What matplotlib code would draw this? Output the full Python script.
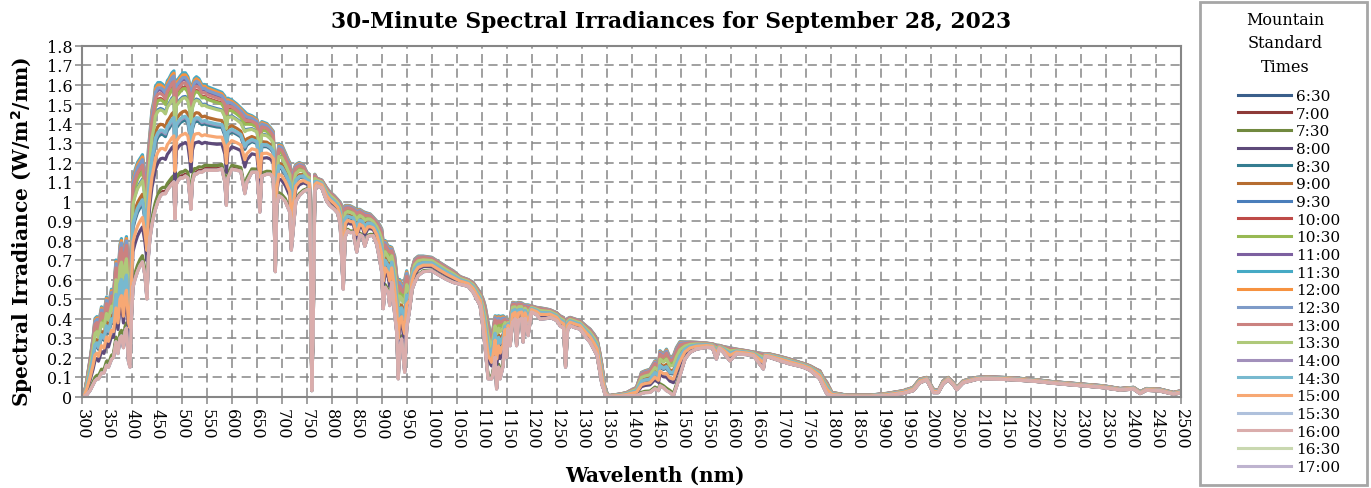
import numpy as np
import matplotlib.pyplot as plt
from matplotlib.patches import Rectangle
from matplotlib.lines import Line2D
from matplotlib.ticker import MultipleLocator, FuncFormatter

plt.rcParams["font.family"] = ["DejaVu Serif"]

# wavelength grid (nm) with the brightest (midday) and dimmest (16:00) spectra
wl_nm = [300, 305, 310, 316, 322, 326, 330, 333, 339, 344, 349, 353, 359, 363, 368, 372, 376, 379,
         383, 386, 389, 393, 396, 399, 402, 406, 411, 416, 421, 426, 430, 433, 436, 440, 444, 447,
         452, 457, 462, 467, 471, 474, 480, 484, 486, 489, 493, 497, 502, 507, 512, 516, 518, 521,
         525, 529, 534, 540, 546, 550, 560, 570, 580, 586, 589, 592, 600, 610, 618, 626, 630, 640,
         650, 656, 660, 670, 677, 683, 687, 690, 694, 700, 707, 712, 716, 719, 723, 728, 735, 743,
         750, 755, 758, 760, 763, 766, 770, 780, 790, 796, 805, 812, 817, 820, 823, 827, 832, 837,
         843, 850, 856, 862, 866, 872, 877, 883, 890, 896, 900, 903, 907, 913, 916, 920, 926, 930,
         933, 936, 940, 943, 946, 950, 953, 956, 961, 966, 973, 983, 1000, 1016, 1030, 1043, 1057,
         1073, 1083, 1097, 1103, 1107, 1113, 1120, 1123, 1127, 1130, 1134, 1137, 1143, 1147, 1150,
         1153, 1157, 1162, 1167, 1170, 1174, 1180, 1183, 1187, 1193, 1200, 1210, 1217, 1230, 1237,
         1250, 1257, 1264, 1268, 1272, 1277, 1290, 1297, 1310, 1317, 1325, 1331, 1337, 1341, 1344,
         1347, 1354, 1377, 1390, 1397, 1410, 1420, 1427, 1437, 1447, 1454, 1457, 1464, 1470, 1477,
         1484, 1490, 1497, 1507, 1517, 1530, 1550, 1562, 1570, 1576, 1584, 1597, 1610, 1630, 1644,
         1664, 1668, 1677, 1697, 1717, 1737, 1744, 1757, 1770, 1777, 1784, 1791, 1801, 1831, 1877,
         1911, 1944, 1964, 1977, 1991, 2004, 2014, 2024, 2034, 2044, 2051, 2064, 2091, 2111, 2144,
         2178, 2211, 2244, 2278, 2311, 2345, 2378, 2405, 2418, 2431, 2458, 2485, 2500]

irr_upper = [0.0, 0.02, 0.09, 0.19, 0.30, 0.40, 0.41, 0.37, 0.46, 0.43, 0.51, 0.47, 0.55, 0.52, 0.70,
             0.60, 0.78, 0.81, 0.64, 0.78, 0.82, 0.66, 0.64, 0.80, 1.12, 1.16, 1.20, 1.22, 1.24, 1.15,
             1.10, 1.27, 1.35, 1.47, 1.52, 1.59, 1.61, 1.61, 1.60, 1.58, 1.62, 1.63, 1.66, 1.67, 1.50,
             1.62, 1.63, 1.645, 1.66, 1.66, 1.64, 1.60, 1.55, 1.60, 1.63, 1.64, 1.63, 1.60, 1.60,
             1.59, 1.58, 1.57, 1.56, 1.54, 1.50, 1.53, 1.52, 1.50, 1.48, 1.46, 1.45, 1.44, 1.423,
             1.38, 1.41, 1.40, 1.38, 1.36, 0.90, 1.20, 1.295, 1.29, 1.25, 1.22, 1.20, 1.05, 1.16,
             1.19, 1.20, 1.19, 1.15, 1.14, 0.70, 0.05, 0.50, 1.14, 1.12, 1.11, 1.07, 1.05, 1.03,
             1.01, 0.996, 0.98, 0.95, 0.98, 0.98, 0.978, 0.97, 0.96, 0.96, 0.95, 0.945, 0.94, 0.936,
             0.92, 0.90, 0.88, 0.86, 0.79, 0.80, 0.77, 0.77, 0.765, 0.72, 0.62, 0.585, 0.60, 0.57,
             0.57, 0.60, 0.645, 0.60, 0.55, 0.66, 0.705, 0.72, 0.72, 0.714, 0.688, 0.665, 0.645,
             0.615, 0.60, 0.585, 0.534, 0.50, 0.466, 0.38, 0.295, 0.35, 0.414, 0.41, 0.414, 0.41,
             0.414, 0.405, 0.397, 0.39, 0.397, 0.483, 0.48, 0.48, 0.483, 0.48, 0.475, 0.47, 0.47,
             0.465, 0.457, 0.455, 0.449, 0.445, 0.43, 0.414, 0.405, 0.30, 0.40, 0.406, 0.395, 0.389,
             0.36, 0.346, 0.32, 0.295, 0.22, 0.158, 0.10, 0.038, 0.004, 0.013, 0.02, 0.03, 0.047,
             0.124, 0.132, 0.14, 0.183, 0.158, 0.235, 0.218, 0.243, 0.20, 0.21, 0.252, 0.281, 0.28,
             0.28, 0.278, 0.274, 0.27, 0.264, 0.262, 0.256, 0.25, 0.243, 0.235, 0.228, 0.22, 0.22,
             0.218, 0.206, 0.192, 0.175, 0.17, 0.158, 0.14, 0.132, 0.098, 0.073, 0.021, 0.007, 0.007,
             0.016, 0.03, 0.047, 0.09, 0.098, 0.038, 0.03, 0.081, 0.098, 0.073, 0.047, 0.081, 0.098,
             0.101, 0.098, 0.093, 0.086, 0.076, 0.069, 0.062, 0.055, 0.041, 0.047, 0.025, 0.041,
             0.038, 0.021, 0.03]

irr_lower = [0.0, 0.0, 0.01, 0.03, 0.06, 0.08, 0.09, 0.09, 0.12, 0.12, 0.16, 0.15, 0.19, 0.20, 0.28,
             0.22, 0.30, 0.31, 0.25, 0.33, 0.35, 0.18, 0.15, 0.40, 0.56, 0.60, 0.64, 0.67, 0.69, 0.62,
             0.50, 0.72, 0.81, 0.88, 0.93, 0.96, 1.00, 1.03, 1.04, 1.04, 1.06, 1.07, 1.09, 1.10, 0.91,
             1.09, 1.11, 1.12, 1.12, 1.13, 1.12, 1.02, 0.96, 1.10, 1.14, 1.14, 1.15, 1.15, 1.16,
             1.16, 1.16, 1.16, 1.167, 1.10, 0.98, 1.12, 1.165, 1.16, 1.155, 1.04, 1.10, 1.15, 1.15,
             0.945, 1.13, 1.14, 1.14, 1.12, 0.64, 0.98, 1.03, 1.02, 1.00, 0.97, 0.945, 0.75, 0.86,
             1.00, 1.03, 1.05, 1.06, 1.06, 0.60, 0.03, 0.40, 1.05, 1.08, 1.07, 1.00, 0.98, 0.96,
             0.94, 0.876, 0.70, 0.55, 0.82, 0.85, 0.84, 0.842, 0.74, 0.83, 0.82, 0.77, 0.82, 0.825,
             0.825, 0.78, 0.70, 0.637, 0.45, 0.56, 0.534, 0.466, 0.585, 0.42, 0.33, 0.09, 0.25, 0.295,
             0.20, 0.124, 0.35, 0.40, 0.45, 0.55, 0.585, 0.62, 0.64, 0.645, 0.62, 0.60, 0.585,
             0.575, 0.565, 0.534, 0.466, 0.346, 0.25, 0.09, 0.09, 0.12, 0.20, 0.038, 0.15, 0.09,
             0.158, 0.30, 0.20, 0.346, 0.26, 0.38, 0.397, 0.26, 0.39, 0.40, 0.278, 0.40, 0.312,
             0.432, 0.42, 0.397, 0.40, 0.406, 0.39, 0.363, 0.35, 0.15, 0.34, 0.363, 0.35, 0.346,
             0.30, 0.278, 0.24, 0.21, 0.12, 0.06, 0.04, 0.01, 0.0, 0.0, 0.003, 0.004, 0.004,
             0.015, 0.02, 0.021, 0.04, 0.03, 0.055, 0.045, 0.03, 0.02, 0.004, 0.05, 0.107, 0.192,
             0.226, 0.243, 0.252, 0.25, 0.192, 0.245, 0.226, 0.183, 0.218, 0.215, 0.209, 0.141, 0.205,
             0.20, 0.183, 0.167, 0.155, 0.15, 0.135, 0.107, 0.09, 0.05, 0.013, 0.004, 0.0, 0.0,
             0.004, 0.015, 0.03, 0.07, 0.085, 0.02, 0.02, 0.065, 0.085, 0.06, 0.035, 0.07, 0.088,
             0.09, 0.088, 0.083, 0.077, 0.068, 0.06, 0.053, 0.045, 0.033, 0.038, 0.015, 0.032,
             0.028, 0.012, 0.018]

times = ["6:30", "7:00", "7:30", "8:00", "8:30", "9:00", "9:30", "10:00", "10:30", "11:00", "11:30",
         "12:00", "12:30", "13:00", "13:30", "14:00", "14:30", "15:00", "15:30", "16:00", "16:30",
         "17:00"]
# irradiance of each half-hour spectrum at 580 nm
level_580 = [1.17, 1.175, 1.19, 1.295, 1.38, 1.415, 1.47, 1.505, 1.50, 1.535, 1.56,
             1.552, 1.542, 1.522, 1.465, 1.39, 1.395, 1.33, 1.168, 1.167, 1.167, 1.167]

colors = ["#3A5F8B", "#8E3A38", "#71893F", "#5E4A7A", "#357D91", "#B66D31",
          "#4A7EBB", "#BE4B48", "#98B954", "#7D60A0", "#46AAC5", "#F69240",
          "#7E9BC8", "#CB8280", "#AFC97A", "#A290BB", "#78B9CF", "#F7A874",
          "#AFC1DC", "#DAADAC", "#C9D8B0", "#BEB3CF"]

wl = np.array(wl_nm, dtype=float)
upper = np.array(irr_upper)
lower = np.array(irr_lower)
i580 = wl_nm.index(580)

W, H = 1371, 489
fig = plt.figure(figsize=(W / 100, H / 100), dpi=100)
ax = fig.add_axes([82 / W, 91.5 / H, 1099 / W, 351 / H])

grid_color = "#868686"
for i, (t, lev) in enumerate(zip(times, level_580)):
    w = (lev - lower[i580]) / (upper[i580] - lower[i580])
    spec = lower + w * (upper - lower)
    # the two last series sit underneath the 16:00 trace
    z = 1.5 if t in ("16:30", "17:00") else 2 + i * 0.01
    ax.plot(wl, spec, color=colors[i], lw=2.3, zorder=z, solid_joinstyle="round")

ax.set_xlim(300, 2500)
ax.set_ylim(0, 1.8)
ax.xaxis.set_major_locator(MultipleLocator(50))
ax.yaxis.set_major_locator(MultipleLocator(0.1))
ax.yaxis.set_major_formatter(FuncFormatter(lambda v, p: f"{v:.1f}".rstrip("0").rstrip(".") if v else "0"))
ax.grid(True, color=grid_color, linestyle=(0, (6, 3.5)), linewidth=1.1, zorder=0)
ax.set_axisbelow(True)
for s in ax.spines.values():
    s.set_color(grid_color)
    s.set_linewidth(1.5)
ax.tick_params(axis="both", colors=grid_color, length=5, width=1.1, labelcolor="black", labelsize=11.5)
ax.tick_params(axis="x", labelrotation=-90, pad=3)
ax.tick_params(axis="y", pad=2)

# titles placed on the figure (centred on the chart area, not the plot area)
fig.text(671 / W, 1 - 22 / H, "30-Minute Spectral Irradiances for September 28, 2023",
         ha="center", va="center", fontsize=15.7, fontweight="bold")
fig.text(655 / W, 1 - 476 / H, "Wavelenth (nm)", ha="center", va="center",
         fontsize=14.5, fontweight="bold")
fig.text(22 / W, 1 - 232 / H, "Spectral Irradiance (W/m$^\\mathbf{2}$/nm)", ha="center", va="center",
         rotation=90, fontsize=14.5, fontweight="bold")

# legend box on the right
fig.patches.append(Rectangle((1200 / W, 3 / H), 167 / W, 483 / H, transform=fig.transFigure,
                             fill=False, edgecolor="#A6A6A6", linewidth=2))
fig.text(1285 / W, 1 - 12 / H, "Mountain\nStandard\nTimes", ha="center", va="top",
         fontsize=11.5, linespacing=1.5)
handles = [Line2D([], [], color=c, lw=2.2) for c in colors]
fig.legend(handles, times, loc="upper left", bbox_to_anchor=(1238 / W, 1 - 90 / H),
           frameon=False, fontsize=11, handlelength=3.47, handletextpad=0.33,
           labelspacing=0.24, borderpad=0, borderaxespad=0)

fig.savefig("out.png", dpi=100)
